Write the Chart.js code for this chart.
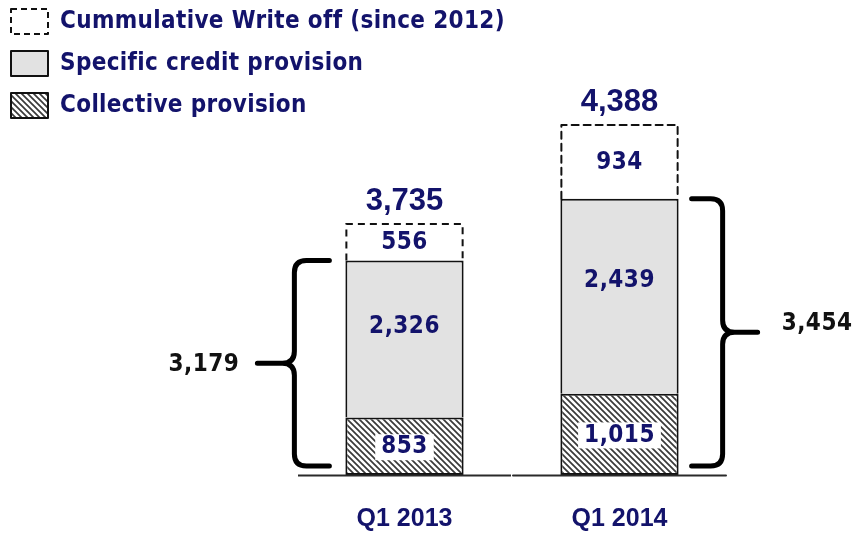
<!DOCTYPE html>
<html>
<head>
<meta charset="utf-8">
<script src="https://cdn.jsdelivr.net/npm/chart.js@4/dist/chart.umd.min.js"></script>
<style>
html, body { margin: 0; padding: 0; background: #fff; }
</style>
</head>
<body>
<canvas id="provisionChart" width="855" height="534"></canvas>
<script>
// Values
const categories = ['Q1 2013', 'Q1 2014'];
const collectiveProvision = [853, 1015];
const specificProvision = [2326, 2439];
const writeOff = [556, 934];
const totals = [3735, 4388];
const provisionTotals = [3179, 3454];
const legendLabels = ['Cummulative Write off (since 2012)', 'Specific credit provision', 'Collective provision'];

// the two bars are not drawn to the same scale in the original, so each gets its own axis
const axisMax = [6744, 5688];

const NAVY = '#13136b';
const GREY = '#e2e2e2';
const LABEL_FONT = 'bold 24px "DejaVu Sans Condensed", "DejaVu Sans", sans-serif';
const BIG_FONT = 'bold 31px "Liberation Sans", Arial, sans-serif';
const CAT_FONT = 'bold 25px "Liberation Sans", Arial, sans-serif';

function makeHatch() {
    const s = 6;
    const c = document.createElement('canvas');
    c.width = s; c.height = s;
    const g = c.getContext('2d');
    g.fillStyle = '#fff';
    g.fillRect(0, 0, s, s);
    g.strokeStyle = '#3a3a3a';
    g.lineWidth = 1.7;
    g.beginPath();
    g.moveTo(-1, -1); g.lineTo(s + 1, s + 1);
    g.moveTo(s - 1, -1); g.lineTo(s + 1, 1);
    g.moveTo(-1, s - 1); g.lineTo(1, s + 1);
    g.stroke();
    return g.createPattern(c, 'repeat');
}

const ctxMain = document.getElementById('provisionChart').getContext('2d');
const hatch = makeHatch();

const fmt = v => v.toLocaleString('en-US');

// one dataset per segment per bar, so every bar can sit on its own y axis
const segments = [
    { key: 'collective', values: collectiveProvision, bg: hatch, border: '#111', skip: false },
    { key: 'specific', values: specificProvision, bg: GREY, border: '#111', skip: 'bottom' },
    { key: 'writeoff', values: writeOff, bg: 'rgba(255,255,255,0)', border: 'rgba(0,0,0,0)', skip: true }
];

const datasets = [];
categories.forEach((cat, i) => {
    segments.forEach(seg => {
        datasets.push({
            label: seg.key,
            seg: seg.key,
            bar: i,
            data: categories.map((c, j) => (j === i ? seg.values[i] : null)),
            yAxisID: i === 0 ? 'y' : 'y2',
            backgroundColor: seg.bg,
            borderColor: seg.border,
            borderWidth: 2,
            borderSkipped: seg.skip,
            categoryPercentage: 1,
            barPercentage: 0.55
        });
    });
});

function barOf(chart, i, segKey) {
    const idx = chart.data.datasets.findIndex(d => d.bar === i && d.seg === segKey);
    return chart.getDatasetMeta(idx).data[i].getProps(['x', 'y', 'base', 'width'], true);
}

function drawBrace(ctx, xv, xe, xt, yTop, yBot) {
    const ym = (yTop + yBot) / 2;
    const d = Math.sign(xe - xv);
    const r = 12;
    ctx.beginPath();
    ctx.moveTo(xe, yTop);
    ctx.lineTo(xv + d * r, yTop);
    ctx.quadraticCurveTo(xv, yTop, xv, yTop + r);
    ctx.lineTo(xv, ym - r);
    ctx.quadraticCurveTo(xv, ym, xv - d * r, ym);
    ctx.lineTo(xt, ym);
    ctx.moveTo(xv - d * r, ym);
    ctx.quadraticCurveTo(xv, ym, xv, ym + r);
    ctx.lineTo(xv, yBot - r);
    ctx.quadraticCurveTo(xv, yBot, xv + d * r, yBot);
    ctx.lineTo(xe, yBot);
    ctx.stroke();
    return ym;
}

const overlay = {
    id: 'overlay',
    afterDatasetsDraw(chart) {
        const ctx = chart.ctx;
        ctx.save();

        categories.forEach((cat, i) => {
            const col = barOf(chart, i, 'collective');
            const spec = barOf(chart, i, 'specific');
            const wo = barOf(chart, i, 'writeoff');
            const left = wo.x - wo.width / 2 + 1;
            const right = wo.x + wo.width / 2 - 1;

            // dashed outline of the write-off part
            ctx.strokeStyle = '#111';
            ctx.lineWidth = 2;
            ctx.setLineDash([7, 5]);
            ctx.beginPath();
            ctx.moveTo(left, wo.base);
            ctx.lineTo(left, wo.y + 1);
            ctx.lineTo(right, wo.y + 1);
            ctx.lineTo(right, wo.base);
            ctx.stroke();
            ctx.setLineDash([]);

            // baseline under each bar
            const half = (chart.chartArea.right - chart.chartArea.left) / categories.length / 2;
            ctx.strokeStyle = '#2a2a2a';
            ctx.lineWidth = 2;
            ctx.beginPath();
            ctx.moveTo(col.x - half + 1, col.base + 0.5);
            ctx.lineTo(col.x + half - 1, col.base + 0.5);
            ctx.stroke();

            // segment labels
            ctx.font = LABEL_FONT;
            ctx.letterSpacing = '0.5px';
            ctx.textAlign = 'center';
            ctx.textBaseline = 'middle';
            ctx.fillStyle = NAVY;
            ctx.fillText(fmt(writeOff[i]), wo.x, (wo.y + wo.base) / 2 + 1);
            ctx.fillText(fmt(specificProvision[i]), spec.x, spec.base - 0.58 * (spec.base - spec.y));

            const colText = fmt(collectiveProvision[i]);
            const tw = ctx.measureText(colText).width;
            const cy = (col.y + col.base) / 2 + 1;
            ctx.fillStyle = '#fff';
            ctx.fillRect(col.x - tw / 2 - 6, cy - 13, tw + 12, 26);
            ctx.fillStyle = NAVY;
            ctx.fillText(colText, col.x, cy);
            ctx.letterSpacing = '0px';

            // total above the bar
            ctx.font = BIG_FONT;
            ctx.fillText(fmt(totals[i]), wo.x, wo.y - 22);

            // category label
            ctx.font = CAT_FONT;
            ctx.fillText(cat, col.x, col.base + 44);

            // brace around the provisions
            ctx.strokeStyle = '#000';
            ctx.lineWidth = 5;
            ctx.lineCap = 'round';
            ctx.lineJoin = 'round';
            const barL = col.x - col.width / 2;
            const barR = col.x + col.width / 2;
            const yTop = spec.y;
            const yBot = col.base - 9;
            ctx.font = LABEL_FONT;
            ctx.letterSpacing = '0.5px';
            ctx.fillStyle = '#111';
            if (i === 0) {
                const ym = drawBrace(ctx, barL - 51, barL - 16, barL - 88, yTop, yBot);
                ctx.textAlign = 'right';
                ctx.fillText(fmt(provisionTotals[i]), barL - 106, ym + 2);
            } else {
                const ym = drawBrace(ctx, barR + 44, barR + 13, barR + 79, yTop, yBot);
                ctx.textAlign = 'left';
                ctx.fillText(fmt(provisionTotals[i]), barR + 103, ym - 9);
            }
            ctx.letterSpacing = '0px';
        });

        // legend
        const boxes = [8, 50, 92];
        ctx.lineCap = 'butt';
        boxes.forEach((top, k) => {
            ctx.lineWidth = 2;
            ctx.strokeStyle = '#111';
            if (k === 0) {
                ctx.setLineDash([6, 4]);
            } else {
                ctx.fillStyle = k === 1 ? GREY : hatch;
                ctx.fillRect(11, top + 1, 37, 25);
            }
            ctx.strokeRect(11, top + 1, 37, 25);
            ctx.setLineDash([]);
            ctx.font = LABEL_FONT;
            ctx.letterSpacing = '0.35px';
            ctx.textAlign = 'left';
            ctx.textBaseline = 'middle';
            ctx.fillStyle = NAVY;
            ctx.fillText(legendLabels[k], 60, top + 14);
            ctx.letterSpacing = '0px';
        });

        ctx.restore();
    }
};

new Chart(ctxMain, {
    type: 'bar',
    data: {
        labels: categories,
        datasets: datasets
    },
    options: {
        responsive: false,
        animation: false,
        layout: {
            padding: { left: 297, right: 128, top: 20, bottom: 59 }
        },
        plugins: {
            legend: { display: false },
            tooltip: { enabled: false }
        },
        scales: {
            x: { display: false, stacked: true },
            y: { display: false, stacked: true, min: 0, max: axisMax[0] },
            y2: { display: false, stacked: true, min: 0, max: axisMax[1] }
        }
    },
    plugins: [overlay]
});
</script>
</body>
</html>
